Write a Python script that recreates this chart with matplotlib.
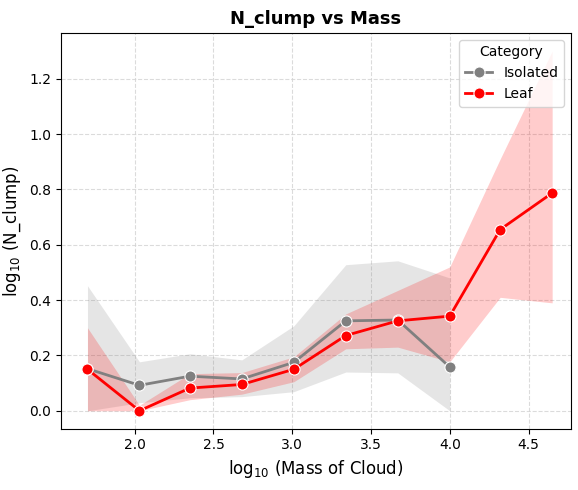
import matplotlib.pyplot as plt
import numpy as np

# log10 mass bins
x_iso = [1.70, 2.03, 2.35, 2.68, 3.01, 3.34, 3.67, 4.00]
x_leaf = [1.70, 2.03, 2.35, 2.68, 3.01, 3.34, 3.67, 4.00, 4.32, 4.65]

# Isolated: mean and confidence band
y_iso = [0.152, 0.092, 0.125, 0.115, 0.175, 0.325, 0.328, 0.158]
lo_iso = [0.0, 0.029, 0.047, 0.051, 0.069, 0.140, 0.137, 0.0]
hi_iso = [0.452, 0.177, 0.206, 0.184, 0.307, 0.528, 0.542, 0.480]

# Leaf: mean and confidence band
y_leaf = [0.150, 0.0, 0.082, 0.095, 0.150, 0.272, 0.325, 0.342, 0.655, 0.787]
lo_leaf = [0.0, 0.0, 0.040, 0.060, 0.105, 0.224, 0.230, 0.177, 0.410, 0.390]
hi_leaf = [0.300, 0.020, 0.134, 0.138, 0.195, 0.350, 0.435, 0.520, 0.910, 1.300]

fig, ax = plt.subplots(figsize=(5.78, 4.9), dpi=100)

ax.fill_between(x_iso, lo_iso, hi_iso, color="gray", alpha=0.2, linewidth=0)
ax.plot(x_iso, y_iso, color="gray", lw=2, marker="o", markersize=8,
        markeredgecolor="white", markeredgewidth=0.8, label="Isolated")

ax.fill_between(x_leaf, lo_leaf, hi_leaf, color="red", alpha=0.2, linewidth=0)
ax.plot(x_leaf, y_leaf, color="red", lw=2, marker="o", markersize=8,
        markeredgecolor="white", markeredgewidth=0.8, label="Leaf")

ax.set_xlim(1.53, 4.77)
ax.set_ylim(-0.065, 1.366)
ax.grid(True, linestyle="--", color="lightgray", alpha=0.8)
ax.set_axisbelow(True)

ax.set_title("N_clump vs Mass", fontsize=13, fontweight="bold")
ax.set_xlabel("log$_{10}$ (Mass of Cloud)", fontsize=12)
ax.set_ylabel("log$_{10}$ (N_clump)", fontsize=12)
ax.legend(title="Category", loc="upper right")

fig.subplots_adjust(left=0.105, right=0.988, top=0.933, bottom=0.125)
fig.savefig("out.png")
